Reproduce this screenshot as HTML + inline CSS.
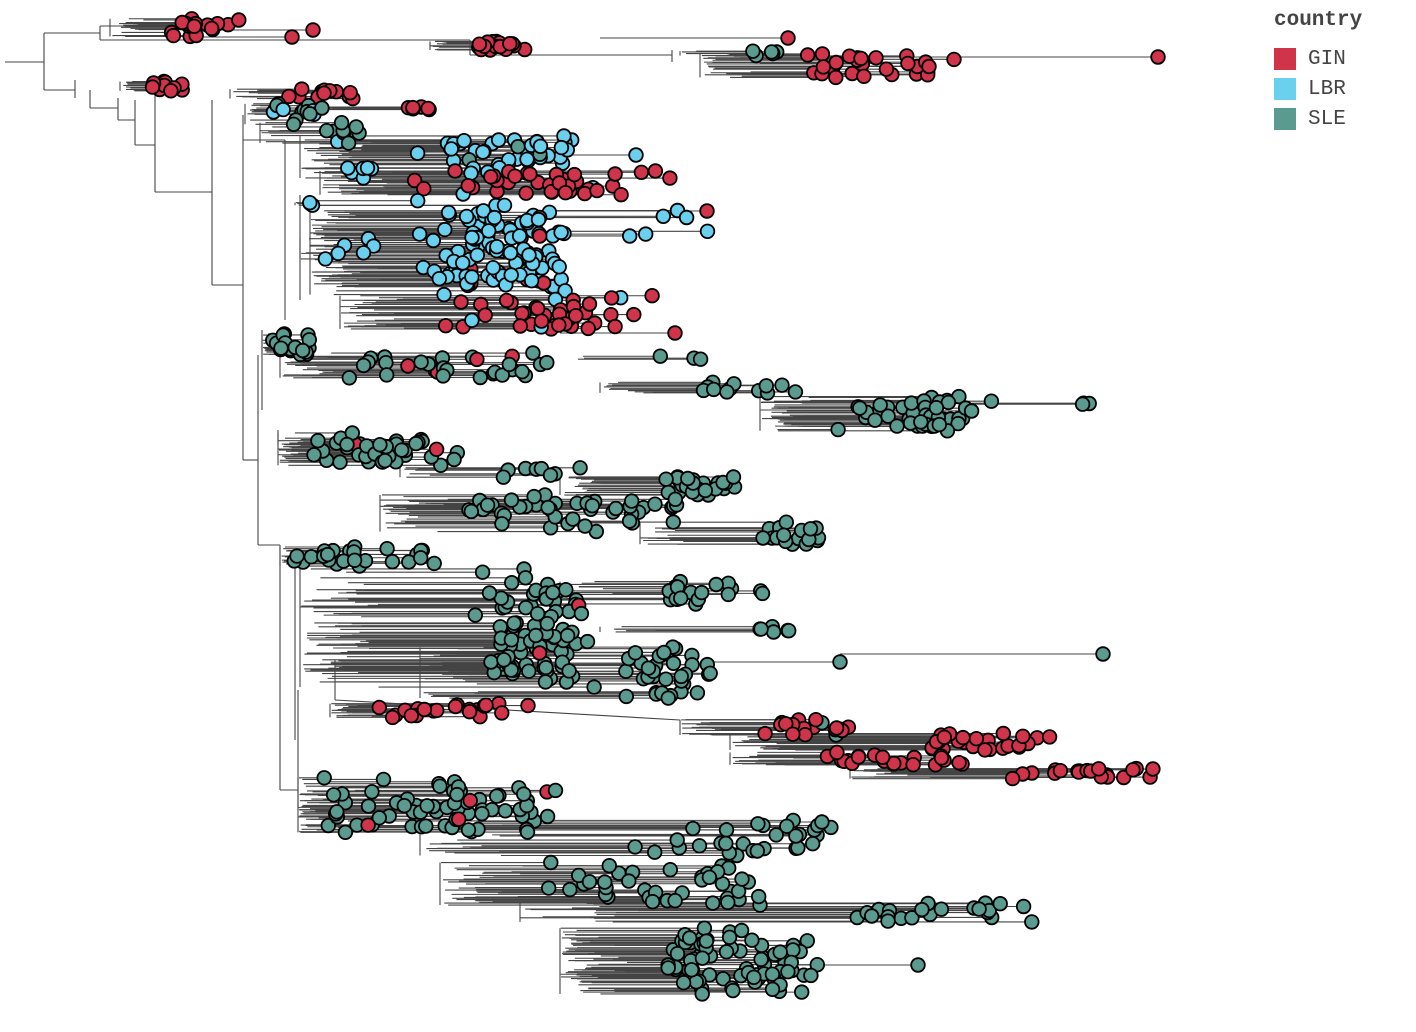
<!DOCTYPE html>
<html><head><meta charset="utf-8">
<style>
html,body{margin:0;padding:0;background:#fff;width:1416px;height:1032px;overflow:hidden;font-family:"Liberation Mono",monospace;}
#legend{position:absolute;left:1274px;top:9px;color:#444;}
#legend .t{font-weight:bold;font-size:21px;margin-bottom:12px;}
#legend .r{display:flex;align-items:center;height:30px;font-size:21px;}
#legend .s{width:22px;height:22px;margin-right:12px;}
svg{position:absolute;left:0;top:0;}
</style></head><body>
<svg id="g" width="1416" height="1032" xmlns="http://www.w3.org/2000/svg"></svg>
<div id="legend">
<div class="t">country</div>
<div class="r"><div class="s" style="background:#d0344a"></div>GIN</div>
<div class="r"><div class="s" style="background:#6bcfee"></div>LBR</div>
<div class="r"><div class="s" style="background:#5a9a8f"></div>SLE</div>
</div>
<script>
var R='#d0344a',B='#6bcfee',G='#5a9a8f',Y='#aaaaaa';
var seed=12345;function rnd(){seed=(seed*16807)%2147483647;return seed/2147483647;}
function cr(){var u=rnd();return u*0.7+0.3*(rnd()*0.5+rnd()*0.5);}
var L=[],C=[];
function line(x1,y1,x2,y2){L.push('<line x1="'+x1+'" y1="'+y1+'" x2="'+x2+'" y2="'+y2+'"/>');}
function cl(x1,x2,y1,y2,n,col,stem,mix){
  stem=stem||x1-30;var ys=[];
  for(var i=0;i<n;i++){var x=x1+(x2-x1)*cr(),y=y1+(y2-y1)*cr();
    var c=col; if(mix&&rnd()<mix[1]) c=mix[0];
    var bx=stem+(x-stem)*rnd()*0.3;
    line(bx,y,x,y);ys.push(y);C.push([x,y,c]);}
  var mn=Math.min.apply(null,ys),mx=Math.max.apply(null,ys);
  line(stem,mn,stem,mx);
}
function single(x,y,c,sx){line(sx,y,x,y);C.push([x,y,c]);}
line(5,62,44,62);line(44,33,44,90);line(44,33,100,33);line(100,26,100,40);line(44,90,75,90);
line(75,80,75,98);line(90,90,90,108);line(90,108,118,108);line(118,98,118,120);line(118,120,135,120);
line(135,100,135,145);line(135,145,155,145);line(155,95,155,192);line(155,192,212,192);
line(212,100,212,285);line(212,285,243,285);line(243,115,243,460);line(243,460,258,460);
line(258,355,258,545);line(258,545,280,545);line(280,545,280,790);line(280,790,298,790);
line(298,690,298,810);line(262,330,262,410);line(278,430,278,445);line(295,560,295,740);
line(100,40,470,40);line(470,40,470,55);line(470,55,672,55);line(672,50,672,62);
line(100,26,150,26);line(820,57,1158,57);
line(243,140,285,140);line(285,140,285,320);line(300,195,300,300);
line(335,660,335,700);line(335,700,680,720);
cl(155,265,18,40,20,R,110);single(292,37,R,200);single(313,30,R,200);single(788,38,R,600);
cl(465,540,38,52,16,R,430);cl(745,800,50,58,5,G,680);cl(780,975,52,80,28,R,700);single(1158,57,R,900);
cl(140,190,78,98,10,R,120);cl(250,380,86,100,12,R,230,[Y,0.1]);cl(385,490,106,114,6,R,300);
cl(260,330,98,135,14,G,245,[B,0.3]);cl(320,370,118,150,10,G,260,[B,0.3]);
cl(405,590,132,170,40,B,300,[G,0.05]);single(636,155,B,500);
cl(340,380,160,185,6,B,300);
cl(380,700,168,200,40,R,320,[B,0.15]);
cl(305,320,195,210,3,B,295);
cl(400,600,195,300,110,B,310,[R,0.08]);single(707,211,R,550);
cl(600,735,205,240,6,B,500);cl(315,400,235,270,6,B,300,[Y,0.2]);
cl(395,665,290,335,40,R,340,[B,0.1]);single(675,333,R,560);
cl(270,320,330,365,18,G,262);cl(310,560,348,385,30,G,280,[R,0.05]);
cl(620,730,355,360,3,G,550);cl(655,830,380,395,12,G,600);
cl(830,1000,388,435,45,G,760);cl(1075,1095,400,406,3,G,950);
cl(290,480,430,470,45,G,278,[R,0.03]);cl(470,590,465,480,8,G,400);
cl(660,745,470,500,25,G,560);cl(420,720,492,535,45,G,380);
cl(750,830,520,548,18,G,640);
cl(275,460,542,570,25,G,280);cl(470,600,562,705,90,G,300,[R,0.02]);
cl(640,810,575,605,18,G,560);cl(740,800,625,635,6,G,600);
cl(610,720,640,705,35,G,420);single(840,662,G,700);single(1103,654,G,840);
cl(365,535,700,720,22,R,330);
cl(750,870,715,740,18,R,680,[G,0.3]);cl(900,1060,730,755,28,R,730);
cl(810,1000,750,768,22,R,730);cl(1000,1180,765,780,20,R,850);
cl(300,570,775,842,70,G,298,[R,0.06]);cl(600,870,815,860,30,G,420);
cl(490,800,858,910,40,G,440);cl(830,1045,900,925,22,G,520);
cl(650,830,922,1005,80,G,560);single(918,965,G,780);
var s=document.getElementById('g');
var h='<g stroke="#444" stroke-width="1.1" fill="none">'+L.join('')+'</g><g stroke="#000" stroke-width="1.8">';
for(var i=0;i<C.length;i++){h+='<circle cx="'+C[i][0].toFixed(1)+'" cy="'+C[i][1].toFixed(1)+'" r="6.8" fill="'+C[i][2]+'"/>';}
h+='</g>';s.innerHTML=h;
</script>
</body></html>
